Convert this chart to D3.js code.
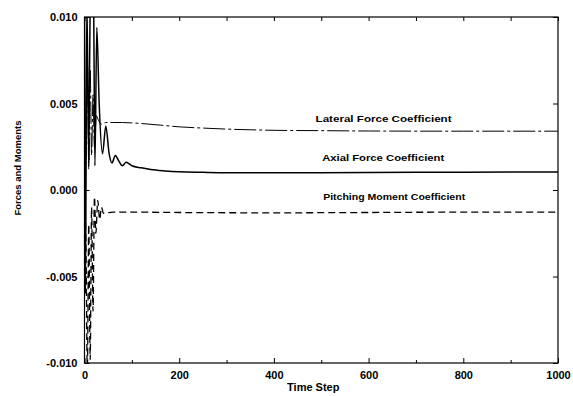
<!DOCTYPE html>
<html>
<head>
<meta charset="utf-8">
<script src="https://cdn.jsdelivr.net/npm/d3@7"></script>
<style>
	body { margin: 0; background: #fff; }
	svg { font-family: "Liberation Sans", Arial, sans-serif; }
</style>
</head>
<body>
<div id="chart"></div>
<script>
	'use strict';

	// axial force coefficient (solid)
	var axialT = [0, 2, 5, 9, 12, 15, 19, 22, 26, 31, 38, 45, 52, 58, 65, 72, 80, 88, 100, 120, 140, 170, 200, 250, 300, 400, 600, 800, 1000];
	var axialV = [0.0105, -0.0060, 0.0110, 0.0016, 0.0110, 0.0112, 0.0110, 0.0014, 0.0094, 0.0050, 0.0021, 0.0037, 0.0021, 0.00156, 0.0020, 0.0017, 0.0014, 0.0016, 0.0014, 0.00128, 0.00118, 0.00110, 0.00105, 0.00102, 0.00100, 0.00100, 0.00101, 0.00103, 0.00104];

	// lateral force coefficient
	var lateralT = [0, 3, 6, 9, 12, 15, 18, 21, 25, 30, 36, 45, 60, 80, 100, 130, 160, 200, 250, 300, 350, 400, 500, 600, 800, 1000];
	var lateralV = [0.0030, 0.0015, 0.0075, 0.0012, 0.0070, 0.0020, 0.0055, 0.0025, 0.0043, 0.0040, 0.0038, 0.0039, 0.0039, 0.0039, 0.00388, 0.00382, 0.00375, 0.00365, 0.00358, 0.00352, 0.00348, 0.00345, 0.00343, 0.00341, 0.00340, 0.00340];

	// pitching moment coefficient (dashed)
	var pitchT = [0, 3, 6, 9, 12, 15, 18, 21, 24, 28, 32, 36, 40, 60, 100, 200, 400, 600, 800, 1000];
	var pitchV = [0.0000, -0.0030, -0.0105, -0.0020, -0.0098, -0.0010, -0.0070, -0.0004, -0.0025, -0.0006, -0.0017, -0.0010, -0.00135, -0.00128, -0.00128, -0.00130, -0.00132, -0.00130, -0.00128, -0.00128];

	var xTicks = [0, 200, 400, 600, 800, 1000];
	var xMinor = [100, 300, 500, 700, 900];
	var yTicks = [-0.010, -0.005, 0.000, 0.005, 0.010];
	var yLabels = ['-0.010', '-0.005', '0.000', '0.005', '0.010'];

	var labels = [
		{ text: 'Lateral Force Coefficient', t: 488, v: 0.00395, w: 136 },
		{ text: 'Axial Force Coefficient', t: 502, v: 0.00165, w: 122 },
		{ text: 'Pitching Moment Coefficient', t: 504, v: -0.0006, w: 142 }
	];

	var width = 573, height = 396;
	var margin = { left: 84.5, right: 15, top: 17, bottom: 33 };

	var svg = d3.select('#chart').append('svg')
		.attr('width', width)
		.attr('height', height);

	var x = d3.scaleLinear().domain([0, 1000]).range([margin.left, width - margin.right]);
	var y = d3.scaleLinear().domain([-0.010, 0.010]).range([height - margin.bottom, margin.top]);

	svg.append('defs').append('clipPath').attr('id', 'plotclip')
		.append('rect')
		.attr('x', x(0)).attr('y', y(0.010))
		.attr('width', x(1000) - x(0)).attr('height', y(-0.010) - y(0.010));

	function zip (ts, vs) {
		return ts.map(function (t, i) { return [t, vs[i]]; });
	}

	var line = d3.line()
		.curve(d3.curveMonotoneX)
		.x(function (d) { return x(d[0]); })
		.y(function (d) { return y(d[1]); });

	var plot = svg.append('g').attr('clip-path', 'url(#plotclip)');

	plot.append('path')
		.datum(zip(lateralT, lateralV))
		.attr('d', line)
		.attr('fill', 'none')
		.attr('stroke', '#000')
		.attr('stroke-width', 1)
		.attr('stroke-dasharray', '22,3,3,3');

	plot.append('path')
		.datum(zip(pitchT, pitchV))
		.attr('d', line)
		.attr('fill', 'none')
		.attr('stroke', '#000')
		.attr('stroke-width', 1.3)
		.attr('stroke-dasharray', '7,4');

	plot.append('path')
		.datum(zip(axialT, axialV))
		.attr('d', line)
		.attr('fill', 'none')
		.attr('stroke', '#000')
		.attr('stroke-width', 1.5);

	// frame
	svg.append('rect')
		.attr('x', x(0)).attr('y', y(0.010))
		.attr('width', x(1000) - x(0)).attr('height', y(-0.010) - y(0.010))
		.attr('fill', 'none')
		.attr('stroke', '#000')
		.attr('stroke-width', 1.2);

	// axes with inward ticks
	svg.append('g')
		.attr('transform', 'translate(0,' + y(-0.010) + ')')
		.call(d3.axisBottom(x).tickValues(xTicks).tickSize(-5).tickPadding(8).tickFormat(d3.format('d')))
		.call(function (g) { g.select('.domain').remove(); });
	svg.append('g')
		.attr('transform', 'translate(0,' + y(-0.010) + ')')
		.call(d3.axisBottom(x).tickValues(xMinor).tickSize(-3).tickFormat(''))
		.call(function (g) { g.select('.domain').remove(); });
	svg.append('g')
		.attr('transform', 'translate(0,' + y(0.010) + ')')
		.call(d3.axisTop(x).tickValues(xTicks.concat(xMinor)).tickSize(-4).tickFormat(''))
		.call(function (g) { g.select('.domain').remove(); });

	svg.append('g')
		.attr('transform', 'translate(' + x(0) + ',0)')
		.call(d3.axisLeft(y).tickValues(yTicks).tickSize(-5).tickPadding(7)
			.tickFormat(function (d, i) { return yLabels[i]; }))
		.call(function (g) { g.select('.domain').remove(); });
	svg.append('g')
		.attr('transform', 'translate(' + x(1000) + ',0)')
		.call(d3.axisRight(y).tickValues(yTicks).tickSize(-5).tickFormat(''))
		.call(function (g) { g.select('.domain').remove(); });

	svg.selectAll('.tick text')
		.attr('font-size', 11)
		.attr('font-weight', 'bold')
		.attr('fill', '#000');
	svg.selectAll('.tick line').attr('stroke', '#000');

	// curve labels
	svg.selectAll('.clabel')
		.data(labels)
		.enter().append('text')
		.attr('class', 'clabel')
		.attr('x', function (d) { return x(d.t); })
		.attr('y', function (d) { return y(d.v); })
		.attr('font-size', 9)
		.attr('font-weight', 'bold')
		.attr('textLength', function (d) { return d.w; })
		.attr('lengthAdjust', 'spacingAndGlyphs')
		.text(function (d) { return d.text; });

	// axis titles
	svg.append('text')
		.attr('x', x(500) - 8)
		.attr('y', 391)
		.attr('text-anchor', 'middle')
		.attr('font-size', 11)
		.attr('font-weight', 'bold')
		.text('Time Step');

	svg.append('text')
		.attr('transform', 'translate(21,168) rotate(-90)')
		.attr('text-anchor', 'middle')
		.attr('font-size', 9.5)
		.attr('font-weight', 'bold')
		.text('Forces and Moments');
</script>
</body>
</html>
